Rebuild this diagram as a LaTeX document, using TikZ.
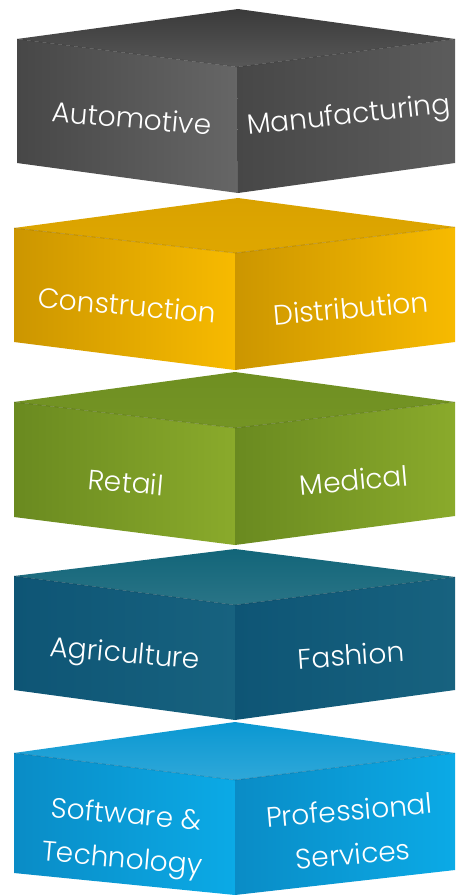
\documentclass[tikz,border=0pt]{standalone}
\usepackage{fontspec}
\setmainfont{Poppins}[UprightFont={* Light}]
\definecolor{greyTop}{HTML}{3A3A3A}
\definecolor{greyDark}{HTML}{474747}
\definecolor{greyLight}{HTML}{666666}
\definecolor{goldTop}{HTML}{D9A200}
\definecolor{goldDark}{HTML}{CC9600}
\definecolor{goldLight}{HTML}{F7BA00}
\definecolor{greenTop}{HTML}{6F8F22}
\definecolor{greenDark}{HTML}{6A8A20}
\definecolor{greenLight}{HTML}{8AAA2B}
\definecolor{tealTop}{HTML}{126579}
\definecolor{tealDark}{HTML}{0E5575}
\definecolor{tealLight}{HTML}{17627F}
\definecolor{blueTop}{HTML}{0A98D2}
\definecolor{blueDark}{HTML}{0A8CC6}
\definecolor{blueLight}{HTML}{0BAAE6}
\tikzset{
	facetext/.style={text=white, font=\fontsize{28}{44}\selectfont, align=center, inner sep=0pt},
	edge/.style={black, opacity=0.15, line width=0.8pt},
}
\begin{document}
\begin{tikzpicture}[x=1pt,y=-1pt]
	\useasboundingbox (0,0) rectangle (464,895);
	% automotive / manufacturing
	\shade[top color=greyTop, bottom color=greyTop!85!white] (17,39) -- (238,9) -- (455,39) -- (237,67) -- cycle;
	\shade[left color=greyDark, right color=greyLight] (17,39) -- (237,67) -- (238,193) -- (17,163) -- cycle;
	\shade[left color=greyDark, right color=greyLight!90!black] (237,67) -- (455,39) -- (455,163) -- (238,193) -- cycle;
	\draw[edge] (17,39) -- (237,67) -- (455,39);
	\node[facetext, rotate=-5] (automotive) at (132,118) {Automotive};
	\node[facetext, rotate=6] (manufacturing) at (349,117) {Manufacturing};
	% construction / distribution
	\shade[top color=goldTop, bottom color=goldTop!80!goldLight] (14,228) -- (238,198) -- (455,227) -- (235,253) -- cycle;
	\shade[left color=goldDark, right color=goldLight] (14,228) -- (235,253) -- (235,370) -- (14,342) -- cycle;
	\shade[left color=goldDark, right color=goldLight] (235,253) -- (455,227) -- (455,342) -- (235,370) -- cycle;
	\draw[edge] (14,228) -- (235,253) -- (455,227);
	\node[facetext, rotate=-5] (construction) at (127,305) {Construction};
	\node[facetext, rotate=5] (distribution) at (351,308) {Distribution};
	% retail / medical
	\shade[top color=greenTop, bottom color=greenTop!80!greenLight] (14,402) -- (235,372) -- (455,402) -- (235,428) -- cycle;
	\shade[left color=greenDark, right color=greenLight] (14,402) -- (235,428) -- (235,545) -- (14,517) -- cycle;
	\shade[left color=greenDark, right color=greenLight] (235,428) -- (455,402) -- (455,516) -- (235,545) -- cycle;
	\draw[edge] (14,402) -- (235,428) -- (455,402);
	\node[facetext, rotate=-5] (retail) at (126,482) {Retail};
	\node[facetext, rotate=5] (medical) at (354,480) {Medical};
	% agriculture / fashion
	\shade[top color=tealTop, bottom color=tealTop!90!white] (14,576) -- (235,549) -- (455,577) -- (235,605) -- cycle;
	\shade[left color=tealDark, right color=tealLight] (14,576) -- (235,605) -- (235,720) -- (14,690) -- cycle;
	\shade[left color=tealDark, right color=tealLight] (235,605) -- (455,577) -- (455,690) -- (235,720) -- cycle;
	\draw[edge] (14,576) -- (235,605) -- (455,577);
	\node[facetext, rotate=-5] (agriculture) at (125,656) {Agriculture};
	\node[facetext, rotate=4] (fashion) at (351,655) {Fashion};
	% software / professional services
	\shade[top color=blueTop, bottom color=blueTop!85!white] (14,753) -- (235,722) -- (455,753) -- (235,780) -- cycle;
	\shade[left color=blueDark, right color=blueLight] (14,753) -- (235,780) -- (235,895) -- (14,873) -- cycle;
	\shade[left color=blueDark, right color=blueLight] (235,780) -- (455,753) -- (455,870) -- (235,895) -- cycle;
	\draw[edge] (14,753) -- (235,780) -- (455,753);
	\node[facetext, rotate=-5] (software) at (124,839) {Software \&\\Technology};
	\node[facetext, rotate=5] (professional) at (351,832) {Professional\\Services};
\end{tikzpicture}
\end{document}
